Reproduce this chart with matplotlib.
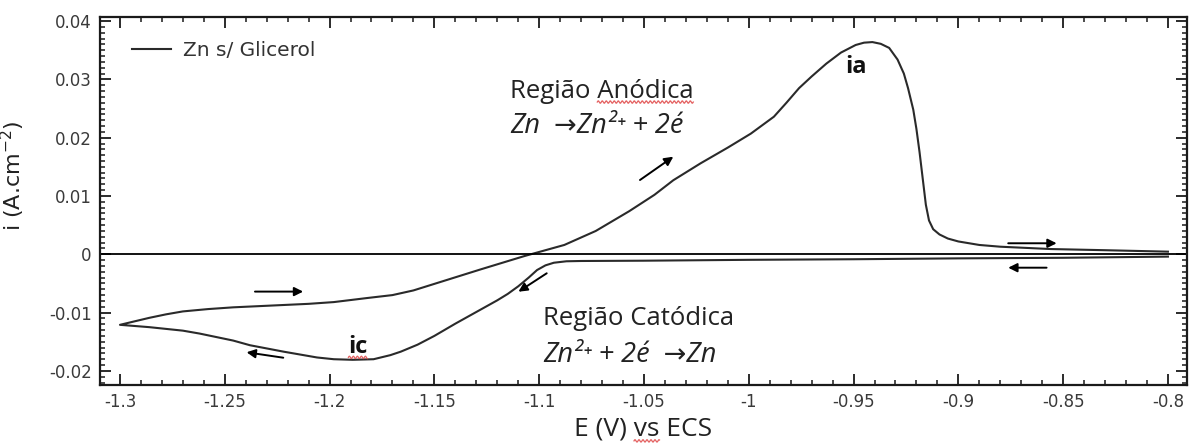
import matplotlib
matplotlib.use("Agg")
import numpy as np
import matplotlib.pyplot as plt
from matplotlib.ticker import MultipleLocator, FixedLocator, FixedFormatter
from matplotlib.lines import Line2D
from matplotlib.transforms import IdentityTransform

plt.rcParams["axes.unicode_minus"] = False

# Cyclic voltammogram of Zn without glycerol
# Cathodic sweep: -0.8 V -> -1.3 V
E_cathodic = [-0.800, -0.850, -0.900, -0.950, -1.000, -1.050, -1.080, -1.087,
              -1.093, -1.097, -1.101, -1.105, -1.110, -1.115, -1.120, -1.130,
              -1.140, -1.150, -1.158, -1.166, -1.171, -1.179, -1.189, -1.198,
              -1.206, -1.222, -1.238, -1.246, -1.254, -1.262, -1.270, -1.286,
              -1.293, -1.300]
i_cathodic = [-0.0004, -0.0006, -0.0007, -0.00085, -0.00095, -0.0011, -0.00115, -0.0012,
              -0.00145, -0.0019, -0.0027, -0.0040, -0.0055, -0.0068, -0.0079, -0.0099,
              -0.0119, -0.0140, -0.0155, -0.0167, -0.0173, -0.0180, -0.0181, -0.0180,
              -0.0177, -0.0167, -0.0156, -0.0148, -0.0142, -0.0136, -0.0131, -0.0125,
              -0.0123, -0.0121]

# Anodic sweep: -1.3 V -> -0.8 V
E_anodic = [-1.300, -1.293, -1.286, -1.278, -1.270, -1.258, -1.246, -1.234,
            -1.222, -1.210, -1.198, -1.182, -1.170, -1.160, -1.144, -1.128,
            -1.107, -1.100, -1.088, -1.073, -1.057, -1.045, -1.036, -1.023,
            -1.010, -0.999, -0.988, -0.982, -0.976, -0.970, -0.963, -0.956,
            -0.949, -0.945, -0.941, -0.937, -0.933, -0.929, -0.926, -0.924,
            -0.9215, -0.920, -0.9185, -0.917, -0.9155, -0.914, -0.912, -0.909,
            -0.905, -0.900, -0.890, -0.880, -0.856, -0.830, -0.800]
i_anodic = [-0.0121, -0.0115, -0.0109, -0.0103, -0.0098, -0.0094, -0.0091, -0.0089,
            -0.0087, -0.0085, -0.0082, -0.0075, -0.0070, -0.0062, -0.0044, -0.0026,
            -0.0003, 0.0004, 0.0016, 0.0040, 0.0074, 0.0102, 0.0127, 0.0156,
            0.0183, 0.0207, 0.0236, 0.0260, 0.0285, 0.0305, 0.0327, 0.0346,
            0.0359, 0.0363, 0.0364, 0.0361, 0.0354, 0.0334, 0.0310, 0.0285,
            0.0248, 0.0215, 0.0175, 0.0130, 0.0085, 0.0058, 0.0043, 0.0034,
            0.0027, 0.0022, 0.0016, 0.0013, 0.0009, 0.0007, 0.00045]

x_ticks = [-1.3, -1.25, -1.2, -1.15, -1.1, -1.05, -1.0, -0.95, -0.9, -0.85, -0.8]
x_tick_labels = ["-1.3", "-1.25", "-1.2", "-1.15", "-1.1", "-1.05", "-1",
                 "-0.95", "-0.9", "-0.85", "-0.8"]
y_ticks = [-0.02, -0.01, 0.0, 0.01, 0.02, 0.03, 0.04]
y_tick_labels = ["-0.02", "-0.01", "0", "0.01", "0.02", "0.03", "0.04"]

# Sweep-direction arrows: (tail E, tail i, head E, head i)
sweep_arrows = [
    (-1.2356, -0.0064, -1.2126, -0.0064),
    (-1.2221, -0.01774, -1.2396, -0.01681),
    (-1.0964, -0.00326, -1.1099, -0.00642),
    (-1.0519, 0.01274, -1.0360, 0.01674),
    (-0.8762, 0.00189, -0.8531, 0.00189),
    (-0.8579, -0.0023, -0.8762, -0.0023),
]

fig = plt.figure(figsize=(11.89, 4.46), dpi=100)
ax = fig.add_axes([0.0841, 0.1368, 0.9139, 0.8244])

E_cycle = E_cathodic + E_anodic
i_cycle = i_cathodic + i_anodic
ax.plot(E_cycle, i_cycle, color="#2a2a2a", lw=1.5, solid_joinstyle="round")
ax.axhline(0, color="black", lw=1.3)

for e0, i0, e1, i1 in sweep_arrows:
    ax.annotate("", xy=(e1, i1), xytext=(e0, i0),
                arrowprops=dict(arrowstyle="-|>", color="black", lw=1.4,
                                mutation_scale=13, shrinkA=0, shrinkB=0))

ax.set_xlim(-1.30954, -0.79108)
ax.set_ylim(-0.02242, 0.04065)

ax.xaxis.set_major_locator(FixedLocator(x_ticks))
ax.xaxis.set_major_formatter(FixedFormatter(x_tick_labels))
ax.xaxis.set_minor_locator(MultipleLocator(0.01))
ax.yaxis.set_major_locator(FixedLocator(y_ticks))
ax.yaxis.set_major_formatter(FixedFormatter(y_tick_labels))
ax.yaxis.set_minor_locator(MultipleLocator(0.001))

ax.tick_params(which="both", direction="in", top=True, right=True, colors="#1a1a1a",
               labelcolor="#3a3a3a", labelsize=12)
ax.tick_params(which="major", length=8, width=1.3)
ax.tick_params(which="minor", length=3.5, width=1.1)
ax.tick_params(axis="x", pad=6)
ax.tick_params(axis="y", pad=6)
for s in ax.spines.values():
    s.set_linewidth(1.6)
    s.set_color("#1a1a1a")

xlab = ax.set_xlabel("E (V) vs ECS", fontsize=19, family="Open Sans",
                     color="#222222", labelpad=4)
ax.set_ylabel("i (A.cm$^{-2}$)", fontsize=16, color="#222222", va="center")
ax.yaxis.set_label_coords(-0.080, 0.568)

leg_handle = Line2D([], [], color="#2a2a2a", lw=1.5)
ax.legend([leg_handle], ["Zn s/ Glicerol"], loc="upper left", frameon=False,
          fontsize=14.5, handlelength=1.9, handletextpad=0.6,
          bbox_to_anchor=(0.013, 0.985), labelcolor="#333333")

txt_family = ["Open Sans", "DejaVu Sans"]
t_an = ax.text(-1.1139, 0.0268, "Região Anódica", fontsize=18.5, family=txt_family,
               color="#222222")
ax.text(-1.1139, 0.0208, "Zn  →Zn²⁺ + 2é", fontsize=19.5, family=txt_family,
        style="italic", color="#222222")
ax.text(-1.0982, -0.0121, "Região Catódica", fontsize=18.5, family=txt_family,
        color="#222222")
ax.text(-1.0982, -0.0184, "Zn²⁺ + 2é  →Zn", fontsize=19.5, family=txt_family,
        style="italic", color="#222222")
ax.text(-0.9489, 0.0311, "ia", fontsize=17, family=txt_family, weight="bold",
        ha="center", color="#111111")
t_ic = ax.text(-1.1864, -0.0170, "ic", fontsize=17, family=txt_family, weight="bold",
               ha="center", color="#111111")

# Red spell-check squiggles under some words
fig.canvas.draw()
renderer = fig.canvas.get_renderer()


def span_of(text_artist, prefix, word):
    """Pixel x-span of `word` that follows `prefix` inside a text artist."""
    bb = text_artist.get_window_extent(renderer)
    probe = fig.text(0, 0, prefix, fontproperties=text_artist.get_fontproperties())
    w_pre = probe.get_window_extent(renderer).width if prefix else 0.0
    probe.set_text(prefix + word)
    w_all = probe.get_window_extent(renderer).width
    probe.remove()
    return bb.x0 + w_pre, bb.x0 + w_all, bb.y0


def squiggle(x0, x1, y):
    xs = np.arange(x0, x1, 0.5)
    ys = y + 1.2 * np.sin((xs - x0) * 2 * np.pi / 4.0)
    fig.add_artist(Line2D(xs, ys, transform=IdentityTransform(), color="#e04848",
                          lw=0.9, alpha=0.85))


xa, xb, yb = span_of(t_an, "Região ", "Anódica")
squiggle(xa, xb, yb + 2)
xa, xb, yb = span_of(t_ic, "", "ic")
squiggle(xa, xb, yb + 2)
xa, xb, yb = span_of(xlab, "E (V) ", "vs")
squiggle(xa, xb, max(yb + 1, 2))

fig.savefig("out.png", dpi=100, facecolor="white")
